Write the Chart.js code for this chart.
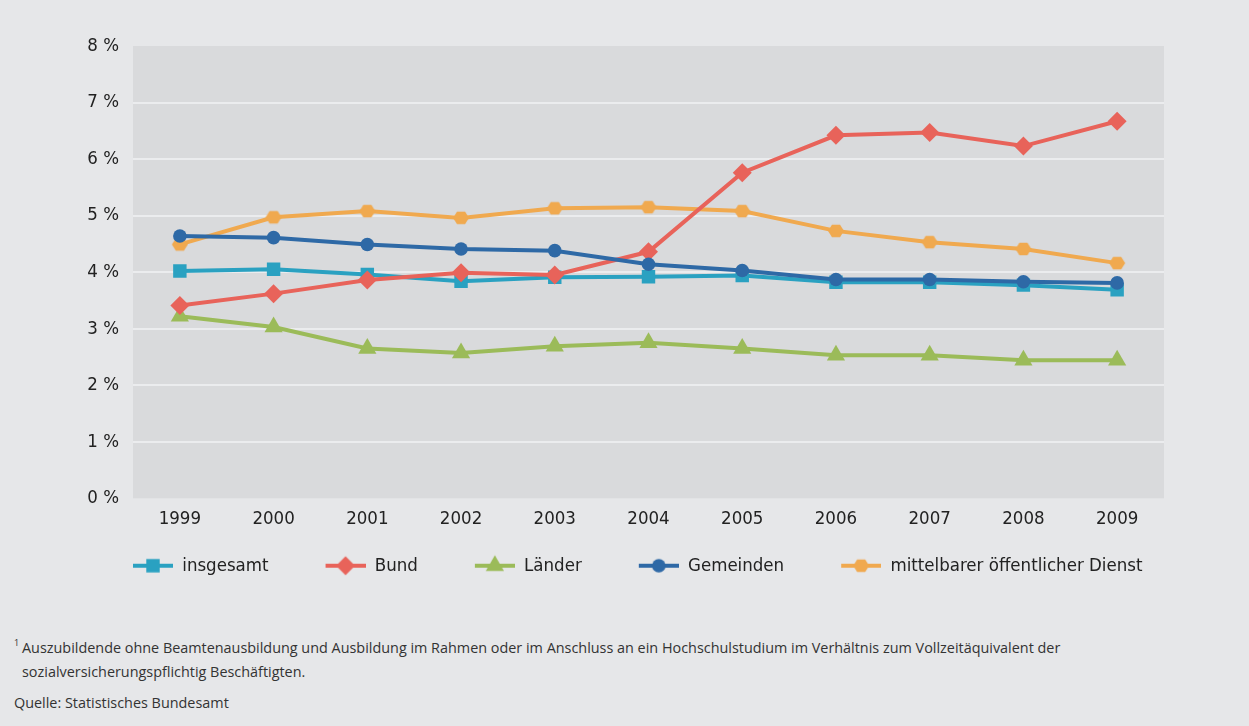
<!DOCTYPE html>
<html lang="de">
<head>
<meta charset="utf-8">
<title>Ausbildungsquote</title>
<script src="https://cdn.jsdelivr.net/npm/chart.js@4.4.0/dist/chart.umd.min.js"></script>
<style>
  html, body { margin: 0; padding: 0; background: #e6e7e9; }
  #wrap { position: relative; width: 1249px; height: 726px; overflow: hidden; }
  canvas { display: block; }
  .note { position: absolute; left: 22px; font-family: "Open Sans", sans-serif; font-size: 14.4px; color: #333; line-height: 24px; }
  .note sup { position: absolute; left: -8px; top: -5px; font-size: 9px; }
</style>
</head>
<body>
<div id="wrap">
  <canvas id="chart" width="1249" height="600"></canvas>
  <div class="note" style="top: 636px;"><sup>1</sup>Auszubildende ohne Beamtenausbildung und Ausbildung im Rahmen oder im Anschluss an ein Hochschulstudium im Verhältnis zum Vollzeitäquivalent der<br>sozialversicherungspflichtig Beschäftigten.</div>
  <div class="note" style="top: 691px; left: 14px;">Quelle: Statistisches Bundesamt</div>
</div>
<script>
const years = ['1999', '2000', '2001', '2002', '2003', '2004', '2005', '2006', '2007', '2008', '2009'];
const insgesamt = [4.02, 4.05, 3.96, 3.84, 3.91, 3.92, 3.94, 3.82, 3.82, 3.77, 3.69];
const bund = [3.41, 3.62, 3.86, 3.99, 3.95, 4.36, 5.76, 6.42, 6.47, 6.23, 6.67];
const laender = [3.22, 3.03, 2.65, 2.57, 2.69, 2.75, 2.65, 2.53, 2.53, 2.44, 2.44];
const gemeinden = [4.64, 4.61, 4.49, 4.41, 4.38, 4.14, 4.03, 3.87, 3.87, 3.83, 3.81];
const mittelbar = [4.49, 4.97, 5.08, 4.96, 5.13, 5.15, 5.08, 4.73, 4.53, 4.41, 4.16];

const hexagon = (color, r) => {
  const c = document.createElement('canvas');
  c.width = c.height = 2 * r + 2;
  const ctx = c.getContext('2d');
  ctx.fillStyle = color;
  ctx.beginPath();
  for (let i = 0; i < 6; i++) {
    const a = Math.PI / 3 * i;
    ctx.lineTo(r + 1 + Math.cos(a) * r, r + 1 + Math.sin(a) * r * 0.92);
  }
  ctx.closePath();
  ctx.fill();
  return c;
};

const series = (label, data, color, pointStyle, pointRadius, order) => ({
  label,
  data,
  order,
  borderColor: color,
  backgroundColor: color,
  borderWidth: 4,
  tension: 0,
  pointStyle,
  pointRadius,
  pointHoverRadius: pointRadius,
  pointBorderWidth: 0,
  pointBackgroundColor: color,
});

// legend swatch: short line with the marker, leading transparent space acts as item gap
const LEAD = 41;
const swatch = (ds) => {
  const c = document.createElement('canvas');
  c.width = LEAD + 40;
  c.height = 24;
  const ctx = c.getContext('2d');
  ctx.strokeStyle = ds.borderColor;
  ctx.lineWidth = 4;
  ctx.beginPath();
  ctx.moveTo(LEAD, 12);
  ctx.lineTo(LEAD + 40, 12);
  ctx.stroke();
  ctx.fillStyle = ds.borderColor;
  Chart.helpers.drawPoint(ctx, { pointStyle: ds.pointStyle, radius: ds.pointRadius, rotation: 0, borderWidth: 0 }, LEAD + 20, 12);
  return c;
};

const plotBackground = {
  id: 'plotBackground',
  beforeDraw(chart) {
    const { ctx, chartArea: { left, top, width, height } } = chart;
    ctx.save();
    ctx.fillStyle = '#d9dadc';
    ctx.fillRect(left, top, width, height);
    ctx.restore();
  },
};

Chart.defaults.font.family = '"Liberation Sans Narrow", "DejaVu Sans Condensed", sans-serif';
Chart.defaults.font.size = 18.5;
Chart.defaults.color = '#222';

new Chart(document.getElementById('chart'), {
  type: 'line',
  data: {
    labels: years,
    datasets: [
      series('insgesamt', insgesamt, '#2aa1c1', 'rect', 9.5, 5),
      series('Bund', bund, '#e8635a', 'rectRot', 9.5, 2),
      series('Länder', laender, '#9bbb59', 'triangle', 10.5, 3),
      series('Gemeinden', gemeinden, '#2e69a6', 'circle', 6.8, 1),
      series('mittelbarer öffentlicher Dienst', mittelbar, '#f0a94f', hexagon('#f0a94f', 8), 8, 4),
    ],
  },
  options: {
    responsive: false,
    animation: false,
    layout: { padding: { left: 76, right: 20, top: 46, bottom: 15 } },
    scales: {
      x: {
        offset: true,
        grid: { display: false, drawTicks: false },
        border: { display: false },
        ticks: { padding: 10 },
      },
      y: {
        min: 0,
        max: 8,
        afterFit: (scale) => { scale.width = 57; },
        grid: {
          drawTicks: false,
          lineWidth: 2,
          color: (c) => (c.tick && c.tick.value > 0 && c.tick.value < 8 ? '#ebecee' : 'rgba(0,0,0,0)'),
        },
        border: { display: false },
        ticks: { stepSize: 1, padding: 14, callback: (v) => v + ' %' },
      },
      // empty right margin so the legend keeps the full width
      y2: {
        position: 'right',
        afterFit: (scale) => { scale.width = 65; },
        grid: { display: false, drawTicks: false },
        border: { display: false },
        ticks: { display: false },
      },
    },
    plugins: {
      tooltip: { enabled: false },
      legend: {
        position: 'bottom',
        align: 'start',
        labels: {
          usePointStyle: true,
          pointStyleWidth: LEAD + 40,
          padding: 16,
          sort: (a, b) => a.datasetIndex - b.datasetIndex,
          generateLabels: (chart) => Chart.defaults.plugins.legend.labels.generateLabels(chart)
            .map((item) => ({ ...item, pointStyle: swatch(chart.data.datasets[item.datasetIndex]) })),
        },
      },
    },
  },
  plugins: [plotBackground],
});
</script>
</body>
</html>
